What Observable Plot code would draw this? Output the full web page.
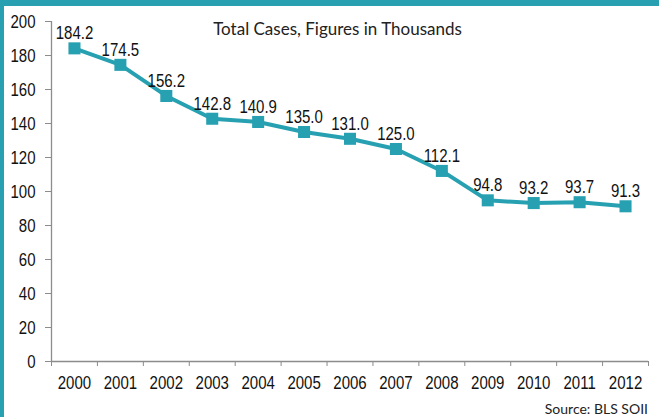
<!DOCTYPE html>
<html>
<head>
<meta charset="utf-8">
<script src="https://cdn.jsdelivr.net/npm/d3@7"></script>
<script src="https://cdn.jsdelivr.net/npm/@observablehq/plot@0.6"></script>
<style>
  html, body { margin: 0; padding: 0; background: #fff; }
  #wrap { position: relative; width: 659px; height: 417px; overflow: hidden; }
  #wrap svg { position: absolute; left: 0; top: 0; }
  .bt { position: absolute; left: 0; top: 0; width: 659px; height: 6px; background: #29a0b1; }
  .bl { position: absolute; left: 0; top: 0; width: 4px; height: 417px; background: #29a0b1; }
  .title { position: absolute; left: 0; width: 675px; top: 18px; text-align: center;
           font-family: Lato, "Open Sans", sans-serif; font-size: 17px; color: #222; }
  .source { position: absolute; right: 11px; top: 400px;
            font-family: Lato, "Open Sans", sans-serif; font-size: 14px; color: #222; }
</style>
</head>
<body>
<div id="wrap"></div>
<script>
const years = [2000, 2001, 2002, 2003, 2004, 2005, 2006, 2007, 2008, 2009, 2010, 2011, 2012];
const cases = [184.2, 174.5, 156.2, 142.8, 140.9, 135.0, 131.0, 125.0, 112.1, 94.8, 93.2, 93.7, 91.3];
const labels = ["184.2", "174.5", "156.2", "142.8", "140.9", "135.0", "131.0", "125.0", "112.1", "94.8", "93.2", "93.7", "91.3"];
const yTicks = [0, 20, 40, 60, 80, 100, 120, 140, 160, 180, 200];
const titleText = "Total Cases, Figures in Thousands";
const sourceText = "Source: BLS SOII";

const data = years.map((y, i) => ({year: y, value: cases[i], label: labels[i]}));
const boundaries = years.map(y => y - 0.5).concat([years[years.length - 1] + 0.5]);

const teal = "#27a1b1";
const axisGray = "#8c8c8c";
const font = "'Liberation Sans', Arial, sans-serif";

const chart = Plot.plot({
  width: 659,
  height: 417,
  marginLeft: 51,
  marginRight: 11,
  marginTop: 21,
  marginBottom: 56,
  style: {fontFamily: font, fontSize: "19px", color: "#111", background: "transparent"},
  x: {domain: [boundaries[0], boundaries[boundaries.length - 1]]},
  y: {domain: [0, 200]},
  marks: [
    Plot.axisY({ticks: yTicks, tickSize: 6, tickPadding: 10, stroke: axisGray, label: null, fontSize: 19, fill: "#111"}),
    Plot.axisX({ticks: boundaries, tickSize: 5, tickFormat: () => "", stroke: axisGray, label: null}),
    Plot.axisX({ticks: years, tickSize: 0, tickPadding: 14, tickFormat: d => String(d), label: null, fontSize: 19, fill: "#111"}),
    Plot.ruleX([boundaries[0]], {stroke: axisGray, strokeWidth: 1.3}),
    Plot.ruleY([0], {stroke: axisGray, strokeWidth: 1.3}),
    Plot.line(data, {x: "year", y: "value", stroke: teal, strokeWidth: 4}),
    Plot.dot(data, {x: "year", y: "value", symbol: "square", r: 6.8, fill: teal, stroke: "none"}),
    Plot.text(data, {x: "year", y: "value", text: "label", dy: -15, fontSize: 19, fill: "#111"})
  ]
});

// condense text horizontally (narrow Arial look) around each text's anchor
chart.querySelectorAll("text").forEach(el => {
  if (!el.textContent) return;
  const x = +(el.getAttribute("x") || 0);
  el.removeAttribute("x");
  const tr = el.getAttribute("transform") || "";
  el.setAttribute("transform", `${tr} translate(${x},0) scale(0.79,1)`);
});

const wrap = document.getElementById("wrap");
wrap.appendChild(chart);
const t = document.createElement("div"); t.className = "title"; t.textContent = titleText; wrap.appendChild(t);
const s = document.createElement("div"); s.className = "source"; s.textContent = sourceText; wrap.appendChild(s);
const b1 = document.createElement("div"); b1.className = "bt"; wrap.appendChild(b1);
const b2 = document.createElement("div"); b2.className = "bl"; wrap.appendChild(b2);
</script>
</body>
</html>
